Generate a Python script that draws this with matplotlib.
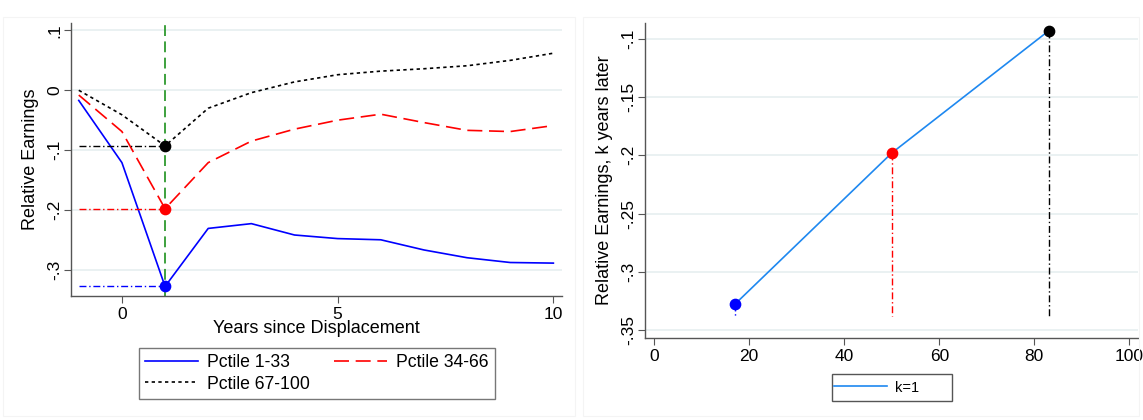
import matplotlib.pyplot as plt
from matplotlib.patches import Rectangle

# -------------------------
# Data
# -------------------------
years = [-1, 0, 1, 2, 3, 4, 5, 6, 7, 8, 9, 10]
p1_33 = [-0.017, -0.121, -0.328, -0.231, -0.223, -0.242, -0.248, -0.250, -0.267, -0.280, -0.288, -0.289]
p34_66 = [-0.008, -0.069, -0.198, -0.121, -0.085, -0.065, -0.050, -0.040, -0.054, -0.067, -0.069, -0.059]
p67_100 = [0.000, -0.041, -0.093, -0.030, -0.004, 0.014, 0.026, 0.032, 0.036, 0.041, 0.050, 0.062]

pctile_mid = [17, 50, 83]
k1_earn = [-0.328, -0.198, -0.093]
point_colors = ['#0000ff', '#ff0000', '#000000']

left_yticks = [0.1, 0, -0.1, -0.2, -0.3]
left_ylabels = ['.1', '0', '-.1', '-.2', '-.3']
right_yticks = [-0.1, -0.15, -0.2, -0.25, -0.3, -0.35]
right_ylabels = ['-.1', '-.15', '-.2', '-.25', '-.3', '-.35']

plt.rcParams['font.family'] = ['Liberation Sans', 'DejaVu Sans']
grid_col = '#e6eff0'
spine_col = '#555555'

fig = plt.figure(figsize=(11.43, 4.2), dpi=100)

# outer graph regions (stata look)
fig.patches.append(Rectangle((3 / 1143, 0.01), 572 / 1143, 0.95, transform=fig.transFigure,
                             fill=False, edgecolor='#f4f4f4', lw=0.8))
fig.patches.append(Rectangle((583 / 1143, 0.01), 556 / 1143, 0.95, transform=fig.transFigure,
                             fill=False, edgecolor='#f4f4f4', lw=0.8))

def style_axis(ax, yticks, ylabels):
    for s in ['top', 'right']:
        ax.spines[s].set_visible(False)
    for s in ['left', 'bottom']:
        ax.spines[s].set_color(spine_col)
        ax.spines[s].set_linewidth(1.0)
    ax.set_yticks(yticks)
    ax.set_yticklabels(ylabels, rotation=90, va='center')
    ax.tick_params(axis='both', length=5, color=spine_col, labelsize=12.5, pad=3)
    ax.tick_params(axis='y', pad=1.5)
    ax.yaxis.grid(True, color=grid_col, lw=1.2)
    ax.set_axisbelow(True)

# -------------------------
# Left panel
# -------------------------
ax1 = fig.add_axes([71 / 1143, 124.3 / 420, 491 / 1143, 273 / 420])
style_axis(ax1, left_yticks, left_ylabels)
ax1.set_xlim(-1.18, 10.2)
ax1.set_ylim(-0.3435, 0.113)
ax1.set_xticks([0, 5, 10])

ax1.axvline(1, color='#2e9a2e', ls=(0, (6, 3)), lw=1.3, zorder=2)
l1, = ax1.plot(years, p1_33, color='#0000ff', lw=1.2, label='Pctile 1-33')
l2, = ax1.plot(years, p34_66, color='#ff0000', lw=1.2, ls=(0, (9, 4)), label='Pctile 34-66')
l3, = ax1.plot(years, p67_100, color='#000000', lw=1.2, ls=(0, (2, 2)), label='Pctile 67-100')

for series, c in zip([p1_33, p34_66, p67_100], point_colors):
    idx = years.index(1)
    ax1.plot([-1, 1], [series[idx], series[idx]], color=c, lw=1.0, ls=(0, (5, 2, 1, 2)), zorder=3)
    ax1.scatter([1], [series[idx]], color=c, s=55, zorder=5)

ax1.set_ylabel('Relative Earnings', fontsize=13, labelpad=6)
ax1.set_xlabel('Years since Displacement', fontsize=13, labelpad=-1)

# row-wise order like the original: 1-33, 34-66 / 67-100
leg1 = fig.legend(handles=[l1, l3, l2], ncol=2, loc='upper left',
                  bbox_to_anchor=(139 / 1143, 1 - 348 / 420), fontsize=12.7,
                  frameon=True, fancybox=False, edgecolor='#555555',
                  handlelength=3.0, columnspacing=1.4, borderpad=0.35,
                  labelspacing=0.25, handletextpad=0.5, borderaxespad=0)
leg1.get_frame().set_linewidth(1.0)

# -------------------------
# Right panel
# -------------------------
ax2 = fig.add_axes([645 / 1143, 82 / 420, 493 / 1143, 315.3 / 420])
style_axis(ax2, right_yticks, right_ylabels)
ax2.set_xlim(-1.9, 101.8)
ax2.set_ylim(-0.357, -0.086)
ax2.set_xticks([0, 20, 40, 60, 80, 100])

lk, = ax2.plot(pctile_mid, k1_earn, color='#1e88f0', lw=1.2, label='k=1', zorder=3)
for x, y, c in zip(pctile_mid, k1_earn, point_colors):
    ax2.plot([x, x], [y, -0.338], color=c, lw=1.0, ls=(0, (5, 2, 1, 2)), zorder=2)
    ax2.scatter([x], [y], color=c, s=55, zorder=5)

ax2.set_ylabel('Relative Earnings, k years later', fontsize=13, labelpad=6)

# legend frame drawn by hand (stata pads it wider than matplotlib does)
fig.patches.append(Rectangle((832 / 1143, 1 - 401 / 420), 120 / 1143, 27 / 420,
                             transform=fig.transFigure, fill=False,
                             edgecolor='#555555', lw=1.0))
leg2 = fig.legend(handles=[lk], loc='center left',
                  bbox_to_anchor=(834 / 1143, 1 - 387.5 / 420), fontsize=10.5,
                  frameon=False, handlelength=3.6, borderpad=0.0,
                  handletextpad=0.6, borderaxespad=0)

fig.savefig('out.png', dpi=100, facecolor='white')
